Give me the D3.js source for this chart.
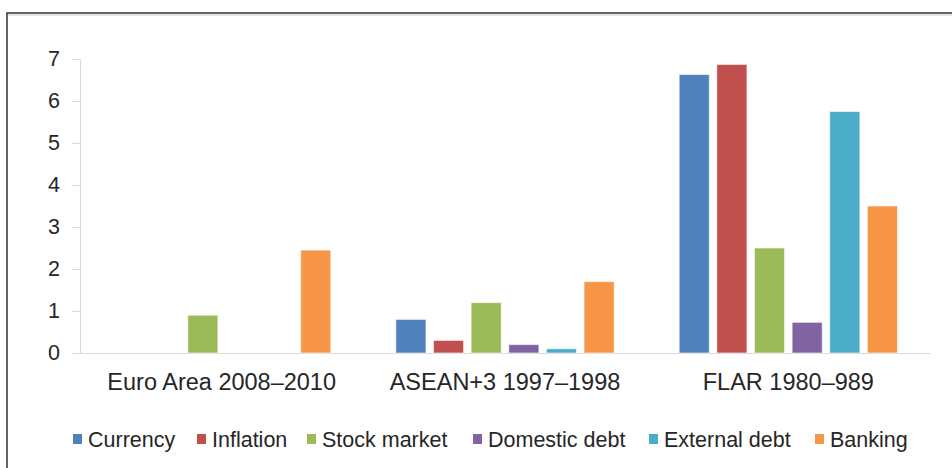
<!DOCTYPE html>
<html>
<head>
<meta charset="utf-8">
<script src="https://cdn.jsdelivr.net/npm/d3@7"></script>
<style>
  body { margin: 0; background: #fff; }
  text { font-family: "Liberation Sans", Arial, sans-serif; fill: #262626; }
</style>
</head>
<body>
<script>
const groups = ["Euro Area 2008\u20132010", "ASEAN+3 1997\u20131998", "FLAR 1980\u2013989"];
const series = ["Currency", "Inflation", "Stock market", "Domestic debt", "External debt", "Banking"];
const colors = ["#4F81BD", "#C0504D", "#9BBB59", "#8064A2", "#4BACC6", "#F79646"];
// values[group][series]
const values = [
  [0, 0, 0.9, 0, 0, 2.45],
  [0.8, 0.3, 1.2, 0.2, 0.1, 1.7],
  [6.63, 6.87, 2.5, 0.73, 5.75, 3.5]
];
const yTicks = [0, 1, 2, 3, 4, 5, 6, 7];

const width = 952;
const height = 468;
const plotLeft = 80, plotRight = 930, plotTop = 59, plotBottom = 353;

const svg = d3.select("body").append("svg")
  .attr("width", width)
  .attr("height", height);

// frame
svg.append("rect")
  .attr("x", 7).attr("y", 13)
  .attr("width", 960).attr("height", 470)
  .attr("fill", "none")
  .attr("stroke", "#333")
  .attr("stroke-width", 1.5);
svg.append("line")
  .attr("x1", 8).attr("x2", 952).attr("y1", 15).attr("y2", 15)
  .attr("stroke", "#ccc").attr("stroke-width", 1);

const x0 = d3.scaleBand().domain(groups).range([plotLeft, plotRight]);
const pad = 32.5;
const x1 = d3.scaleBand().domain(series)
  .range([pad, x0.bandwidth() - pad])
  .paddingInner(0.2).paddingOuter(0);
const y = d3.scaleLinear().domain([0, 7]).range([plotBottom, plotTop]);

// y axis
const yAxis = svg.append("g")
  .attr("transform", `translate(${plotLeft},0)`)
  .call(d3.axisLeft(y).tickValues(yTicks).tickSize(8).tickPadding(12).tickFormat(d3.format("d")));
yAxis.select(".domain").attr("stroke", "#d9d9d9");
yAxis.selectAll(".tick line").attr("stroke", "#d9d9d9");
yAxis.selectAll("text").style("font-size", "21.5px").attr("fill", "#262626");

// x axis
const xAxis = svg.append("g")
  .attr("transform", `translate(0,${plotBottom})`)
  .call(d3.axisBottom(x0).tickSize(0).tickPadding(20).tickSizeOuter(0));
xAxis.select(".domain").attr("stroke", "#d9d9d9");
xAxis.selectAll("text").style("font-size", "23.5px").attr("fill", "#262626");

// bars
const g = svg.append("g");
const cells = [];
values.forEach((row, gi) => row.forEach((v, si) => cells.push({ g: groups[gi], s: series[si], si, v })));
g.selectAll("rect")
  .data(cells.filter(d => d.v > 0))
  .join("rect")
  .attr("x", d => x0(d.g) + x1(d.s))
  .attr("y", d => y(d.v))
  .attr("width", x1.bandwidth())
  .attr("height", d => y(0) - y(d.v))
  .attr("fill", d => colors[d.si])
  .attr("stroke", "#fff")
  .attr("stroke-opacity", 0.6)
  .attr("stroke-width", 1);

// legend
const legendX = [73, 197, 307, 473, 649, 815];
const legend = svg.append("g").attr("transform", "translate(0,439)");
const items = legend.selectAll("g")
  .data(series)
  .join("g")
  .attr("transform", (d, i) => `translate(${legendX[i]},0)`);
items.append("rect")
  .attr("x", 0).attr("y", -5)
  .attr("width", 9).attr("height", 10)
  .attr("fill", (d, i) => colors[i]);
items.append("text")
  .attr("x", 15).attr("y", 7.5)
  .style("font-size", "21.5px")
  .text(d => d);
</script>
</body>
</html>
